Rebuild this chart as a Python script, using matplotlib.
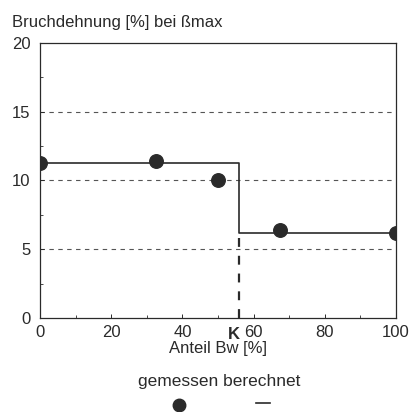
import matplotlib.pyplot as plt
import matplotlib.transforms as mtransforms
import numpy as np

# measured points (gemessen)
anteil_gem = [0, 32.5, 50, 67.5, 100]
dehnung_gem = [11.3, 11.4, 10.0, 6.4, 6.2]

# calculated step line (berechnet)
anteil_ber = [0, 56, 56, 100]
dehnung_ber = [11.3, 11.3, 6.2, 6.2]
k_pos = 56

x_ticks = [0, 20, 40, 60, 80, 100]
y_ticks = [0, 5, 10, 15, 20]

ink = "#2a2a2a"
plt.rcParams['font.family'] = ['Liberation Sans', 'DejaVu Sans']

fig = plt.figure(figsize=(4.09, 4.12), dpi=100)
ax = fig.add_axes([0.098, 0.228, 0.870, 0.668])

# dashed grid lines
for yv in [5, 10, 15]:
    ax.axhline(yv, color="#555555", lw=0.8, ls=(0, (4, 4)), zorder=1)

ax.plot(anteil_ber, dehnung_ber, color=ink, lw=1.2, zorder=2)
ax.plot([k_pos, k_pos], [0, dehnung_ber[-1]], color=ink, lw=1.6, ls=(0, (4, 4)), zorder=2)
ax.scatter(anteil_gem, dehnung_gem, s=95, color=ink, zorder=3)

ax.set_xlim(0, 100)
ax.set_ylim(0, 20)
ax.set_xticks(x_ticks)
ax.set_yticks(y_ticks)
ax.set_xticks([10, 30, 50, 70, 90], minor=True)
ax.set_yticks([2.5, 7.5, 12.5, 17.5], minor=True)
ax.tick_params(direction="in", length=3, width=0.7, colors=ink, labelsize=12, pad=5)
ax.tick_params(axis="y", pad=7)
ax.tick_params(which="minor", direction="in", length=2, width=0.6, colors=ink)
for sp in ax.spines.values():
    sp.set_color(ink)
    sp.set_linewidth(0.9)

# bold K right before the 60 label
trans = mtransforms.offset_copy(ax.get_xaxis_transform(), fig=fig, x=-4, y=-6.5, units="points")
ax.text(k_pos, 0, "K", fontsize=12, fontweight="bold", color=ink,
        ha="center", va="top", transform=trans)
ax.set_xlabel("Anteil Bw [%]", fontsize=12, color=ink, labelpad=1)
fig.text(0.03, 0.945, "Bruchdehnung [%] bei ßmax", fontsize=12, color=ink, ha="left", va="center")

# legend underneath
fig.text(0.535, 0.075, "gemessen berechnet", fontsize=12.5, color=ink, ha="center", va="center")
fig.lines.append(plt.Line2D([0.438], [0.017], marker="o", markersize=9, color=ink,
                            transform=fig.transFigure))
fig.lines.append(plt.Line2D([0.625, 0.660], [0.022, 0.022], color=ink, lw=1.2,
                            transform=fig.transFigure))

fig.savefig("out.png", dpi=100)
